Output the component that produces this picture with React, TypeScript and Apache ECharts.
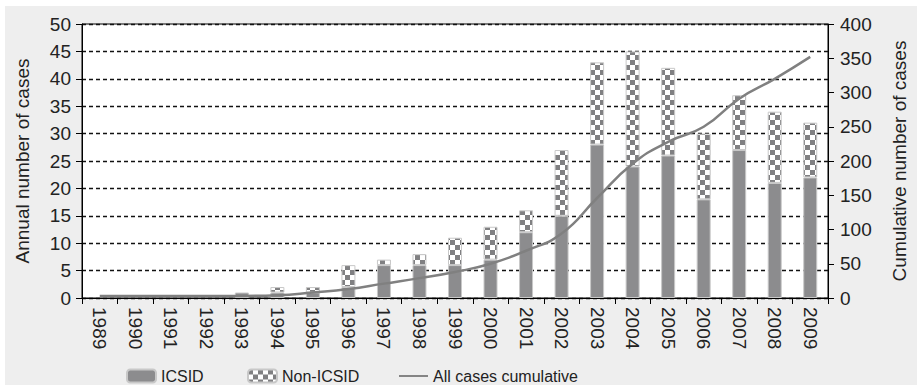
import React, { useEffect, useRef } from "react";
import * as echarts from "echarts";

const years = ["1989","1990","1991","1992","1993","1994","1995","1996","1997","1998","1999","2000","2001","2002","2003","2004","2005","2006","2007","2008","2009"];
const icsid = [0,0,0,0,1,1,1,2,6,6,6,7,12,15,28,24,26,18,27,21,22];
const nonIcsid = [0,0,0,0,0,1,1,4,1,2,5,6,4,12,15,21,16,12,10,13,10];
const cumulative = [3,3,3,3,3,4,8,13,21,29,38,50,69,94,146,196,228,250,291,320,352];
const leftTicks = { min: 0, max: 50, interval: 5 };
const rightTicks = { min: 0, max: 400, interval: 50 };

const FONT = "'Liberation Sans', Arial, sans-serif";
const BAR = "#8c8c8e";
const LINE = "#808080";

const hideZero = (arr: number[]) => arr.map((v) => (v === 0 ? null : v));

function checker(): HTMLCanvasElement {
  const c = document.createElement("canvas");
  const s = 5;
  c.width = s * 2;
  c.height = s * 2;
  const ctx = c.getContext("2d")!;
  ctx.fillStyle = "#ffffff";
  ctx.fillRect(0, 0, s * 2, s * 2);
  ctx.fillStyle = "#808082";
  ctx.fillRect(0, 0, s, s);
  ctx.fillRect(s, s, s, s);
  return c;
}

function legendAt(left: number, name: string, icon?: string) {
  return {
    left, top: 363,
    itemWidth: 29, itemHeight: 13,
    textStyle: { fontFamily: FONT, fontSize: 16, color: "#222" },
    data: [icon ? { name, icon } : { name }],
  };
}

export default function App() {
  const ref = useRef<HTMLDivElement>(null);
  useEffect(() => {
    if (!ref.current) return;
    const chart = echarts.init(ref.current, null, { renderer: "svg" });
    const pattern = { image: checker(), repeat: "repeat" };
    chart.setOption({
      animation: false,
      backgroundColor: "transparent",
      textStyle: { fontFamily: FONT },
      grid: {
        left: 82, right: 84, top: 24, bottom: 89,
        show: true, backgroundColor: "#ffffff", borderColor: "#000", borderWidth: 1,
      },
      legend: [
        legendAt(121, "ICSID"),
        legendAt(242, "Non-ICSID"),
        legendAt(394, "All cases cumulative", "path://M0,0H30V2H0Z"),
      ],
      xAxis: {
        type: "category",
        data: years,
        axisLine: { lineStyle: { color: "#000", width: 1 } },
        axisTick: { show: true, length: 6, lineStyle: { color: "#000" } },
        axisLabel: { rotate: -90, fontSize: 19, color: "#222", margin: 9, interval: 0 },
      },
      yAxis: [
        {
          type: "value", ...leftTicks,
          name: "Annual number of cases", nameLocation: "middle", nameGap: 50,
          nameTextStyle: { fontSize: 19, color: "#222" },
          axisLine: { show: true, lineStyle: { color: "#000" } },
          axisTick: { show: true, length: 6, lineStyle: { color: "#000" } },
          axisLabel: { fontSize: 19, color: "#222", margin: 11 },
          splitLine: { show: true, lineStyle: { color: "#111", type: [4, 3], width: 1.3 } },
        },
        {
          type: "value", ...rightTicks,
          name: "Cumulative number of cases", nameLocation: "middle", nameGap: 62,
          nameRotate: 90,
          nameTextStyle: { fontSize: 19, color: "#222" },
          axisLine: { show: true, lineStyle: { color: "#000" } },
          axisTick: { show: true, length: 6, lineStyle: { color: "#000" } },
          axisLabel: { fontSize: 19, color: "#222", margin: 12 },
          splitLine: { show: false },
        },
      ],
      series: [
        {
          name: "ICSID", type: "bar", stack: "a", data: hideZero(icsid), barWidth: 14,
          itemStyle: { color: BAR, borderColor: "#c8c8c8", borderWidth: 1 },
        },
        {
          name: "Non-ICSID", type: "bar", stack: "a", data: hideZero(nonIcsid), barWidth: 14,
          itemStyle: { color: pattern, borderColor: "#c8c8c8", borderWidth: 1 },
        },
        {
          name: "All cases cumulative", type: "line", yAxisIndex: 1, data: cumulative,
          smooth: true, symbol: "none", showSymbol: false,
          lineStyle: { color: LINE, width: 2.5 },
          itemStyle: { color: LINE },
        },
      ],
    });
    return () => chart.dispose();
  }, []);
  return (
    <div style={{ position: "fixed", left: 0, top: 0, width: 917, height: 387, background: "#fff" }}>
      <div style={{ position: "absolute", left: 5, top: 6, width: 912, height: 379, background: "#eeeeee" }} />
      <div ref={ref} style={{ position: "absolute", left: 0, top: 0, width: 917, height: 387 }} />
    </div>
  );
}
